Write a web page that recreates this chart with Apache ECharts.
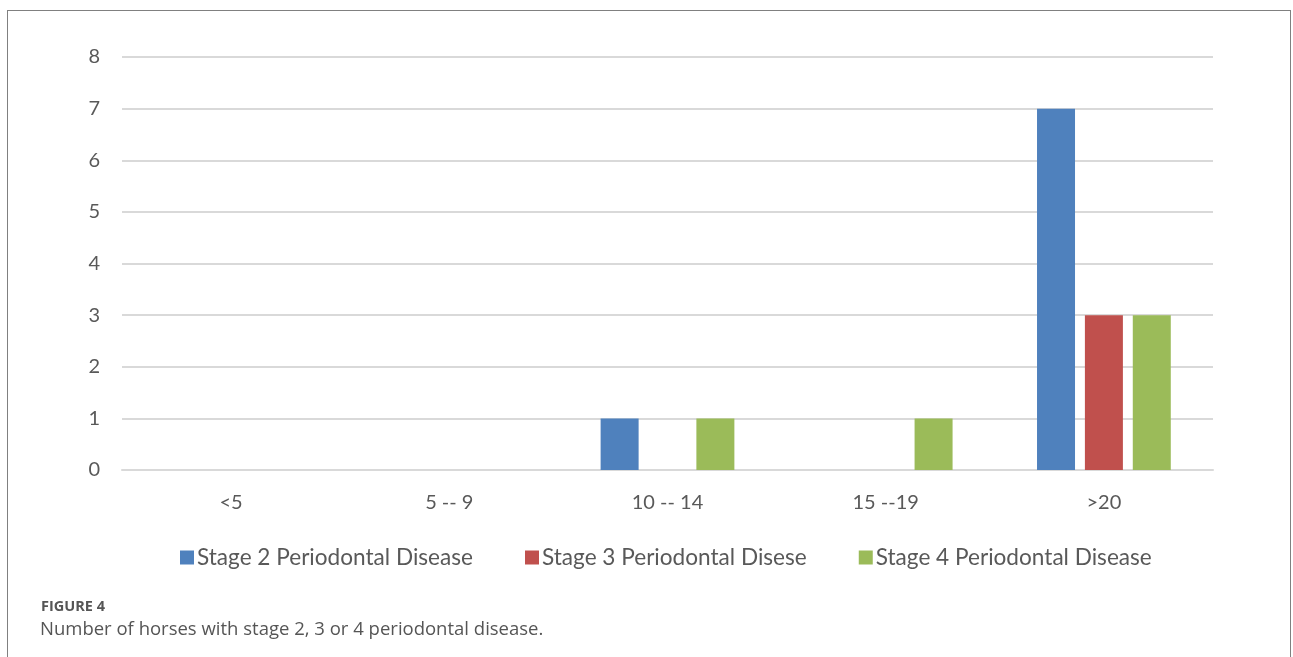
<!DOCTYPE html>
<html>
<head>
<meta charset="utf-8">
<script src="https://cdn.jsdelivr.net/npm/echarts@6/dist/echarts.min.js"></script>
<style>
html,body{margin:0;padding:0;background:#fff;}
#wrap{position:relative;width:1293px;height:657px;overflow:hidden;}
#chart{position:absolute;left:0;top:0;width:1293px;height:657px;}
#frame{position:absolute;left:7px;top:10px;width:1284px;height:700px;border:1.5px solid #808080;box-sizing:border-box;pointer-events:none;}
</style>
</head>
<body>
<div id="wrap"><div id="chart"></div><div id="frame"></div></div>
<script>
const categories = ['<5', '5 -- 9', '10 -- 14', '15 --19', '>20'];
const seriesNames = ['Stage 2 Periodontal Disease', 'Stage 3 Periodontal Disese', 'Stage 4 Periodontal Disease'];
const stage2 = [0, 0, 1, 0, 7];
const stage3 = [0, 0, 0, 0, 3];
const stage4 = [0, 0, 1, 1, 3];
const colors = ['#4F81BD', '#C0504D', '#9BBB59'];
const yTicks = [0, 1, 2, 3, 4, 5, 6, 7, 8];

const chart = echarts.init(document.getElementById('chart'));
const font = 'Lato, "Noto Sans", sans-serif';
const txt = '#595959';
const mk = (name, data, i) => ({
  name, type: 'bar', data, barWidth: 38, barGap: '26%',
  itemStyle: { color: colors[i] },
  emphasis: { disabled: true }
});
chart.setOption({
  animation: false,
  color: colors,
  textStyle: { fontFamily: font },
  title: [
    { text: 'FIGURE 4', left: 36, top: 594, textStyle: { fontFamily: '"Open Sans", sans-serif', fontSize: 14.5, fontWeight: 'bold', color: '#555' } },
    { text: 'Number of horses with stage 2, 3 or 4 periodontal disease.', left: 35, top: 615, textStyle: { fontFamily: '"Open Sans", sans-serif', fontSize: 18.5, fontWeight: 'normal', color: '#555' } }
  ],
  legend: {
    left: 175, top: 541, itemWidth: 14, itemHeight: 14, itemGap: 52, icon: 'rect',
    textStyle: { fontFamily: font, fontSize: 22.6, color: txt, padding: [0, 0, 0, -2] },
    data: seriesNames
  },
  grid: { left: 122, right: 80, top: 57, bottom: 187, containLabel: false },
  xAxis: {
    type: 'category', data: categories,
    axisLine: { lineStyle: { color: '#D9D9D9', width: 2 } },
    axisTick: { show: false },
    axisLabel: { fontSize: 20, color: txt, margin: 23, fontFamily: font }
  },
  yAxis: {
    type: 'value', min: yTicks[0], max: yTicks[yTicks.length - 1], interval: 1,
    axisLine: { show: false }, axisTick: { show: false },
    splitLine: { lineStyle: { color: '#D9D9D9', width: 2 } },
    axisLabel: { fontSize: 20, color: txt, margin: 22, fontFamily: font }
  },
  series: [mk(seriesNames[0], stage2, 0), mk(seriesNames[1], stage3, 1), mk(seriesNames[2], stage4, 2)]
});
</script>
</body>
</html>
